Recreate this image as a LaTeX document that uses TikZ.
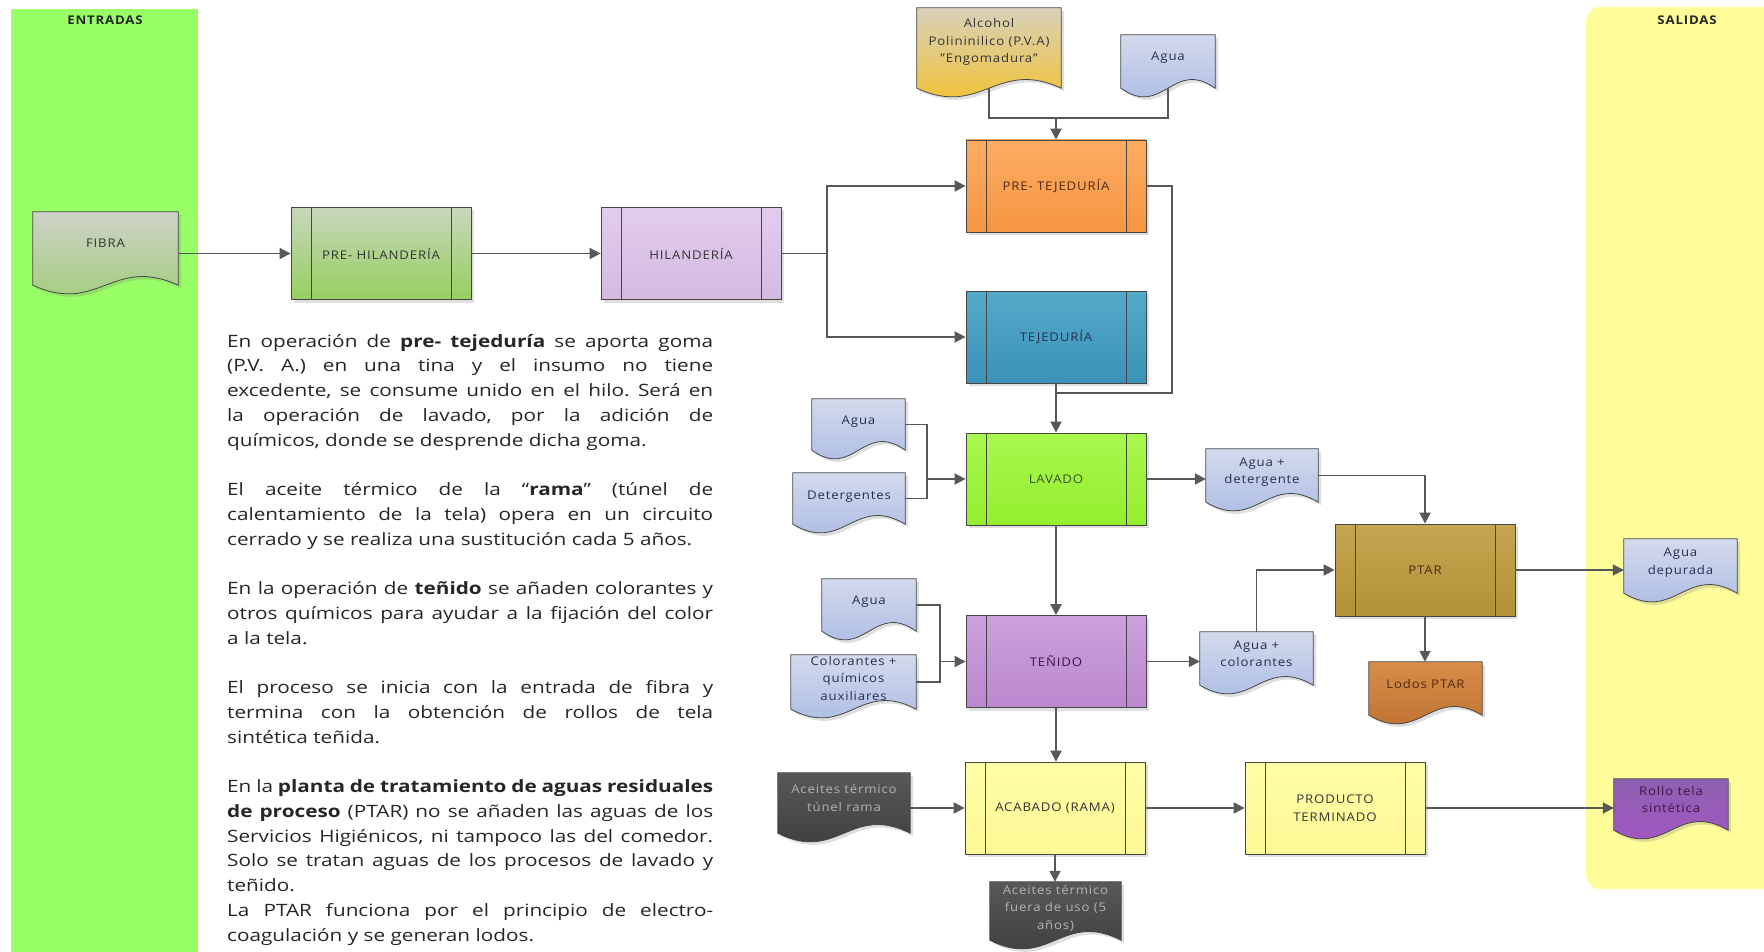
\documentclass[tikz,border=0pt]{standalone}
\usepackage{fontspec}
\setmainfont{Open Sans}[FakeStretch=1.1, LetterSpace=7]
\newfontfamily\bodyfam{Open Sans}[FakeStretch=1.22]
\usetikzlibrary{arrows.meta, calc, backgrounds, shadows}

% bands and lines
\definecolor{bandgreen}{RGB}{153,255,102}
\definecolor{bandyellow}{RGB}{255,253,153}
\definecolor{conn}{RGB}{88,88,88}
\definecolor{boxline}{RGB}{70,70,70}
\definecolor{bodytext}{RGB}{38,38,38}
% process fills (top / bottom)
\definecolor{prehilT}{RGB}{200,214,188}\definecolor{prehilB}{RGB}{150,208,96}
\definecolor{hilT}{RGB}{226,204,236}\definecolor{hilB}{RGB}{212,186,226}
\definecolor{pretejT}{RGB}{252,172,98}\definecolor{pretejB}{RGB}{246,150,66}
\definecolor{tejT}{RGB}{84,170,202}\definecolor{tejB}{RGB}{58,146,184}
\definecolor{lavT}{RGB}{168,248,78}\definecolor{lavB}{RGB}{148,238,46}
\definecolor{tenT}{RGB}{204,160,220}\definecolor{tenB}{RGB}{186,136,206}
\definecolor{acaT}{RGB}{255,253,166}\definecolor{acaB}{RGB}{253,249,150}
\definecolor{ptarT}{RGB}{196,166,82}\definecolor{ptarB}{RGB}{178,146,54}
% document fills (top / bottom)
\definecolor{blueT}{RGB}{212,218,236}\definecolor{blueB}{RGB}{164,182,226}
\definecolor{fibT}{RGB}{206,209,200}\definecolor{fibB}{RGB}{156,206,112}
\definecolor{alcT}{RGB}{216,209,186}\definecolor{alcB}{RGB}{246,192,32}
\definecolor{lodT}{RGB}{214,142,72}\definecolor{lodB}{RGB}{188,108,44}
\definecolor{aceT}{RGB}{88,88,88}\definecolor{aceB}{RGB}{58,58,58}
\definecolor{rolT}{RGB}{142,96,176}\definecolor{rolB}{RGB}{166,84,200}
% label colours
\definecolor{lblgray}{RGB}{52,52,52}
\definecolor{lblblue}{RGB}{40,48,80}
\definecolor{lblbrown}{RGB}{80,42,18}
\definecolor{lblgreen}{RGB}{58,84,44}
\definecolor{lblpurple}{RGB}{62,22,72}
\definecolor{lbllight}{RGB}{178,178,178}

\newcommand\lblfont{\fontsize{12}{17.5}\selectfont}
\newcommand\bodyfont{\bodyfam\fontsize{17}{24.75}\selectfont\frenchspacing}
% a justified line of the notes: word spaces stretch to the full width
\newcommand\fl[1]{{\spaceskip=0pt\xspaceskip=0pt\makebox[486pt][s]{#1}}}
% text of a document shape, lifted a little inside its body
\newcommand\dtxt[2]{\raisebox{#1}[\height][\depth]{\begin{tabular}{@{}c@{}}#2\end{tabular}}}

\begin{document}
\begin{tikzpicture}[x=1pt, y=-1pt,
  ln/.style={draw=conn, line width=1.8pt},
  arr/.style={ln, -{Triangle[length=11pt, width=11pt]}},
  shadowed/.style={drop shadow={opacity=0.25, shadow xshift=3pt, shadow yshift=-3pt}},
  proc/.style 2 args={draw=boxline, line width=0.8pt, top color=#1, bottom color=#2,
    minimum width=180pt, minimum height=92pt, inner sep=0pt, align=center,
    font=\lblfont, text=lblgray, shadowed,
    path picture={\draw[boxline, line width=0.8pt]
      ([xshift=20pt]path picture bounding box.north west) -- ([xshift=20pt]path picture bounding box.south west)
      ([xshift=-20pt]path picture bounding box.north east) -- ([xshift=-20pt]path picture bounding box.south east);}},
  doc/.style={inner sep=0pt, font=\lblfont, text=lblblue},
  docpath/.style={insert path={(#1.north west) -- (#1.north east) -- (#1.south east)
     .. controls ($(#1.south east)!0.45!(#1.south west)+(0,-30)$) and ($(#1.south east)!0.55!(#1.south west)+(0,30)$)
     .. (#1.south west) -- cycle}},
  docshape/.style 2 args={draw=boxline, line width=0.8pt, top color=#1, bottom color=#2, shadowed},
  bandlabel/.style={font=\fontsize{12}{14}\selectfont\bfseries, text=black!85},
]
\useasboundingbox (0,0) rectangle (1764,952);

% input and output bands
\begin{scope}[on background layer]
  \fill[bandgreen] (11,9) rectangle (198,960);
  \fill[bandyellow, rounded corners=14pt] (1586,7) rectangle (1800,889);
\end{scope}
\node[bandlabel] (entradas) at (105,20) {ENTRADAS};
\node[bandlabel] (salidas) at (1687,20) {SALIDAS};

% process steps
\node[proc={prehilT}{prehilB}] (prehil) at (381,253.5) {PRE- HILANDERÍA};
\node[proc={hilT}{hilB}] (hil) at (691,253.5) {HILANDERÍA};
\node[proc={pretejT}{pretejB}, text=lblbrown] (pretej) at (1056,186) {PRE- TEJEDURÍA};
\node[proc={tejT}{tejB}, text=lblblue] (tej) at (1056,337) {TEJEDURÍA};
\node[proc={lavT}{lavB}, text=lblgreen] (lavado) at (1056,479) {LAVADO};
\node[proc={tenT}{tenB}, text=lblpurple] (tenido) at (1056,661.5) {TEÑIDO};
\node[proc={acaT}{acaB}] (acabado) at (1055,808) {ACABADO (RAMA)};
\node[proc={acaT}{acaB}] (producto) at (1335,808) {PRODUCTO\\TERMINADO};
\node[proc={ptarT}{ptarB}, text=lblbrown] (ptar) at (1425,570) {PTAR};

% documents (body box; the wavy outline is drawn below)
\node[doc, text=lblgray, minimum width=145pt, minimum height=73pt] (fibra) at (105.5,248.5) {\dtxt{5pt}{FIBRA}};
\node[doc, text=lblgray, minimum width=144pt, minimum height=80pt] (alcohol) at (989,48) {\dtxt{6pt}{Alcohol\\Polininilico (P.V.A)\\"Engomadura"}};
\node[doc, minimum width=94pt, minimum height=53pt] (aguatop) at (1168,61.5) {\dtxt{4pt}{Agua}};
\node[doc, minimum width=93pt, minimum height=51pt] (agua2) at (858.5,424.5) {\dtxt{4pt}{Agua}};
\node[doc, minimum width=112pt, minimum height=51pt] (deterg) at (849,498.5) {\dtxt{3pt}{Detergentes}};
\node[doc, minimum width=112pt, minimum height=53pt] (aguadet) at (1262,475.5) {\dtxt{4pt}{Agua +\\detergente}};
\node[doc, minimum width=94pt, minimum height=52pt] (agua3) at (869,605) {\dtxt{4pt}{Agua}};
\node[doc, minimum width=125pt, minimum height=54pt] (colq) at (853.5,682) {\dtxt{3pt}{Colorantes +\\químicos\\auxiliares}};
\node[doc, minimum width=113pt, minimum height=53pt] (aguacol) at (1256.5,658.5) {\dtxt{4pt}{Agua +\\colorantes}};
\node[doc, text=lblbrown, minimum width=113pt, minimum height=53pt] (lodos) at (1425.5,688.5) {\dtxt{4pt}{Lodos PTAR}};
\node[doc, minimum width=113pt, minimum height=54pt] (aguadep) at (1680.5,566) {\dtxt{4pt}{Agua\\depurada}};
\node[doc, text=lbllight, minimum width=132pt, minimum height=60pt] (aceites1) at (844,803) {\dtxt{4pt}{Aceites térmico\\túnel rama}};
\node[doc, text=lbllight, minimum width=131pt, minimum height=58pt] (aceites2) at (1055.5,911) {\dtxt{3pt}{Aceites térmico\\fuera de uso (5\\años)}};
\node[doc, text=lblpurple, minimum width=114pt, minimum height=51pt] (rollo) at (1671,804.5) {\dtxt{4pt}{Rollo tela\\sintética}};

\begin{scope}[on background layer]
  \foreach \d in {aguatop,agua2,deterg,aguadet,agua3,colq,aguacol,aguadep}
    \path[docshape={blueT}{blueB}, docpath=\d];
  \path[docshape={fibT}{fibB}, docpath=fibra];
  \path[docshape={alcT}{alcB}, docpath=alcohol];
  \path[docshape={lodT}{lodB}, docpath=lodos];
  \path[docshape={aceT}{aceB}, docpath=aceites1];
  \path[docshape={aceT}{aceB}, docpath=aceites2];
  \path[docshape={rolT}{rolB}, docpath=rollo];
\end{scope}

% junction points of the connectors
\coordinate (split) at (827,253.5);
\coordinate (jtop) at (1056,118);
\coordinate (rt) at (1172,393);
\coordinate (jlav) at (1056,393);
\coordinate (jl) at (927,479);
\coordinate (jt) at (940,661.5);

% connectors
\draw[arr] (fibra.east |- prehil.west) -- (prehil.west);
\draw[arr] (prehil.east) -- (hil.west);
\draw[ln] (hil.east) -- (split);
\draw[arr] (split) |- (pretej.west);
\draw[arr] (split) |- (tej.west);
\draw[ln] (alcohol.south) |- (jtop);
\draw[ln] (aguatop.south) |- (jtop);
\draw[arr] (jtop) -- (pretej.north);
\draw[ln] (pretej.east) -| (rt) -- (jlav);
\draw[arr] (tej.south) -- (lavado.north);
\draw[ln] (agua2.east) -| (jl);
\draw[ln] (deterg.east) -| (jl);
\draw[arr] (jl) -- (lavado.west);
\draw[arr] (lavado.east) -- (lavado.east -| aguadet.west);
\draw[arr] (aguadet.east) -| (ptar.north);
\draw[arr] (lavado.south) -- (tenido.north);
\draw[ln] (agua3.east) -| (jt);
\draw[ln] (colq.east) -| (jt);
\draw[arr] (jt) -- (tenido.west);
\draw[arr] (tenido.east) -- (tenido.east -| aguacol.west);
\draw[arr] (aguacol.north) |- (ptar.west);
\draw[arr] (ptar.south) -- (ptar.south |- lodos.north);
\draw[arr] (ptar.east) -- (ptar.east -| aguadep.west);
\draw[arr] (tenido.south) -- (tenido.south |- acabado.north);
\draw[arr] (aceites1.east |- acabado.west) -- (acabado.west);
\draw[arr] (acabado.south) -- (acabado.south |- aceites2.north);
\draw[arr] (acabado.east) -- (producto.west);
\draw[arr] (producto.east) -- (producto.east -| rollo.west);

% explanatory notes
\node[anchor=base west, inner sep=0pt, text width=486pt, align=left, font=\bodyfont, text=bodytext] (notes) at (227,347) {%
\spaceskip=0pt\xspaceskip=0pt
\fl{En operación de \textbf{pre- tejeduría} se aporta goma}\\
\fl{(P.V. A.) en una tina y el insumo no tiene}\\
\fl{excedente, se consume unido en el hilo. Será en}\\
\fl{la operación de lavado, por la adición de}\\
químicos, donde se desprende dicha goma.\\[24.75pt]
\fl{El aceite térmico de la “\textbf{rama}” (túnel de}\\
\fl{calentamiento de la tela) opera en un circuito}\\
cerrado y se realiza una sustitución cada 5 años.\\[24.75pt]
\fl{En la operación de \textbf{teñido} se añaden colorantes y}\\
\fl{otros químicos para ayudar a la fijación del color}\\
a la tela.\\[24.75pt]
\fl{El proceso se inicia con la entrada de fibra y}\\
\fl{termina con la obtención de rollos de tela}\\
sintética teñida.\\[24.75pt]
\fl{En la \textbf{planta de tratamiento de aguas residuales}}\\
\fl{\textbf{de proceso} (PTAR) no se añaden las aguas de los}\\
\fl{Servicios Higiénicos, ni tampoco las del comedor.}\\
\fl{Solo se tratan aguas de los procesos de lavado y}\\
teñido.\\
\fl{La PTAR funciona por el principio de electro-}\\
coagulación y se generan lodos.};
\end{tikzpicture}
\end{document}
